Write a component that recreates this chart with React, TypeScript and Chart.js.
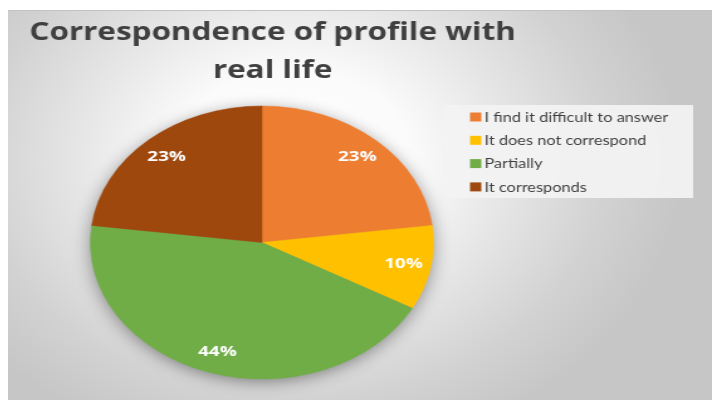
import React, { useEffect, useRef } from 'react';
import { Chart, registerables } from 'chart.js';

Chart.register(...registerables);

const titleLines = ['Correspondence of profile with', 'real life'];
const categories = ['I find it difficult to answer', 'It does not correspond', 'Partially', 'It corresponds'];
const values = [23, 10, 44, 23];
const colors = ['#ED7D31', '#FFC000', '#70AD47', '#9E480E'];

const W = 560;
const H = 390;
const SX = 704 / 560;

const pieShadow = {
  id: 'pieShadow',
  beforeDatasetsDraw(chart: any) {
    const arc = chart.getDatasetMeta(0).data[0];
    if (!arc) return;
    const ctx = chart.ctx;
    ctx.save();
    ctx.shadowColor = 'rgba(0,0,0,0.45)';
    ctx.shadowBlur = 16;
    ctx.shadowOffsetX = 0;
    ctx.shadowOffsetY = 3;
    ctx.fillStyle = '#999';
    ctx.beginPath();
    ctx.arc(arc.x, arc.y, arc.outerRadius - 1, 0, Math.PI * 2);
    ctx.fill();
    ctx.restore();
  },
};

const pctLabels = {
  id: 'pctLabels',
  afterDatasetsDraw(chart: any) {
    const ctx = chart.ctx;
    const data = chart.data.datasets[0].data as number[];
    const total = data.reduce((a, b) => a + b, 0);
    ctx.save();
    ctx.fillStyle = '#ffffff';
    ctx.font = 'bold 15px "Open Sans"';
    ctx.textAlign = 'center';
    ctx.textBaseline = 'middle';
    chart.getDatasetMeta(0).data.forEach((arc: any, i: number) => {
      const mid = (arc.startAngle + arc.endAngle) / 2;
      const r = arc.outerRadius * 0.84;
      const x = arc.x + Math.cos(mid) * r;
      const y = arc.y + Math.sin(mid) * r;
      ctx.fillText(Math.round((data[i] / total) * 100) + '%', x, y);
    });
    ctx.restore();
  },
};

const titleAndLegend = {
  id: 'titleAndLegend',
  afterDraw(chart: any) {
    const ctx = chart.ctx;
    ctx.save();
    // title
    ctx.fillStyle = '#3f3f3f';
    ctx.font = 'bold 25px "Open Sans"';
    ctx.textAlign = 'center';
    ctx.textBaseline = 'alphabetic';
    titleLines.forEach((line, i) => {
      ctx.fillText(line, 210.5, 30 + i * 37.5, 394);
    });
    // legend box
    ctx.fillStyle = 'rgba(242,242,242,0.95)';
    ctx.fillRect(346, 95, 199, 93);
    const labels = chart.data.labels as string[];
    const bg = chart.data.datasets[0].backgroundColor as string[];
    ctx.font = '13px Lato';
    ctx.textAlign = 'left';
    ctx.textBaseline = 'middle';
    labels.forEach((lab, i) => {
      const cy = 107 + i * 23.3;
      ctx.fillStyle = bg[i];
      ctx.fillRect(367.5, cy - 4.5, 9, 9);
      ctx.fillStyle = '#3f3f3f';
      ctx.fillText(lab, 379, cy + 0.5);
    });
    ctx.restore();
  },
};

export default function App() {
  const ref = useRef<HTMLCanvasElement | null>(null);
  useEffect(() => {
    document.documentElement.style.overflow = 'hidden';
    document.body.style.overflow = 'hidden';
    const canvas = ref.current;
    if (!canvas) return;
    const chart = new Chart(canvas, {
      type: 'pie',
      data: {
        labels: categories,
        datasets: [
          {
            data: values,
            backgroundColor: colors,
            borderColor: colors,
            borderWidth: 0.5,
            radius: 136.5,
          } as any,
        ],
      },
      options: {
        responsive: false,
        animation: false,
        devicePixelRatio: 1,
        layout: { padding: { left: 65.5, right: 221.5, top: 96, bottom: 21 } },
        plugins: {
          legend: { display: false },
          title: { display: false },
          tooltip: { enabled: false },
        },
      },
      plugins: [pieShadow, pctLabels, titleAndLegend],
    });
    return () => chart.destroy();
  }, []);

  return (
    <div
      style={{
        position: 'absolute',
        left: 8,
        top: 10,
        width: 704,
        height: 390,
        overflow: 'hidden',
        borderTop: '1px solid #c2c2c2',
        boxSizing: 'border-box',
        background:
          'radial-gradient(ellipse 390px 300px at 285px 150px, #ffffff 0%, #fbfbfb 30%, #e6e6e6 55%, #d2d2d2 80%, #c6c6c6 100%)',
        backgroundColor: '#c2c2c2',
      }}
    >
      <div style={{ position: 'absolute', left: 0, top: -1, width: W, height: H, transform: `scaleX(${SX})`, transformOrigin: '0 0' }}>
        <canvas ref={ref} width={W} height={H} style={{ display: 'block' }} />
      </div>
    </div>
  );
}
